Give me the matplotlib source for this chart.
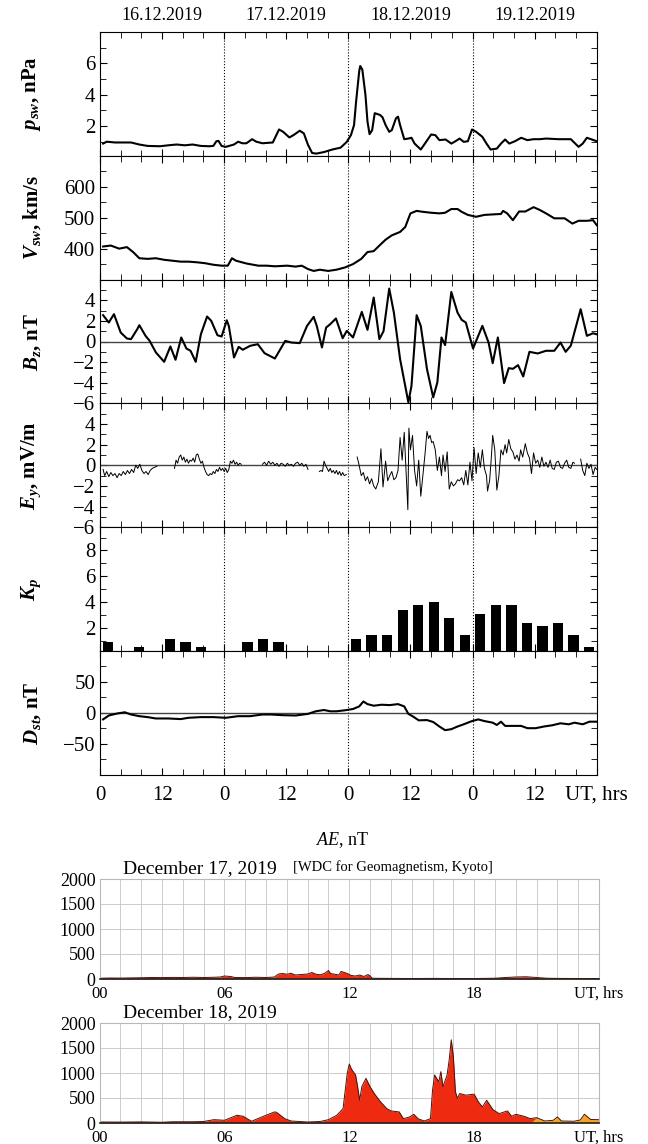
import numpy as np
import matplotlib.pyplot as plt
from matplotlib.ticker import MultipleLocator, FixedLocator

plt.rcParams['font.family'] = ['Liberation Serif', 'DejaVu Serif']
plt.rcParams['mathtext.fontset'] = 'custom'
plt.rcParams['mathtext.rm'] = 'Liberation Serif'
plt.rcParams['mathtext.it'] = 'Liberation Serif:italic'
plt.rcParams['mathtext.bf'] = 'Liberation Serif:bold'
plt.rcParams['mathtext.bfit'] = 'Liberation Serif:italic:bold'

# ---- data (hours from 16.12.2019 00 UT) ----
days = ['16.12.2019', '17.12.2019', '18.12.2019', '19.12.2019']

psw_t = [0.6, 1.3, 2.9, 6.0, 7.6, 9.2, 11.6, 13.2, 14.8, 16.4, 17.9, 19.5, 21.1, 21.9, 22.5, 22.9,
         23.5, 24.3, 25.9, 26.7, 27.5, 28.3, 29.4, 30.2, 31.4, 33.4, 34.6, 35.4, 36.6, 37.4, 38.6,
         39.4, 40.2, 41.0, 41.8, 43.3, 44.9, 46.5, 47.7, 48.5, 49.1, 49.5, 50.1, 50.3, 50.7, 51.3,
         51.7, 52.1, 52.6, 53.1, 54.1, 54.6, 55.2, 55.9, 56.4, 57.2, 57.6, 58.0, 58.8, 59.6, 60.2,
         60.8, 62.0, 62.8, 64.0, 64.8, 65.6, 66.8, 67.9, 68.7, 69.5, 70.3, 71.1, 71.9, 72.7, 73.9,
         74.7, 75.5, 76.7, 77.5, 78.3, 79.1, 80.2, 81.4, 82.6, 83.8, 85.0, 86.2, 88.6, 91.0, 92.5,
         93.3, 94.1, 94.9, 96.0]
psw = [0.88, 1.0, 0.95, 0.95, 0.82, 0.73, 0.71, 0.77, 0.82, 0.77, 0.82, 0.73, 0.71, 0.73, 1.03, 1.05,
       0.73, 0.67, 0.82, 1.0, 0.9, 0.9, 1.16, 1.0, 0.9, 0.95, 1.78, 1.63, 1.27, 1.42, 1.7,
       1.53, 0.8, 0.28, 0.24, 0.34, 0.5, 0.62, 0.99, 1.42, 2.06, 3.57, 5.5, 5.83, 5.6, 4.0,
       2.28, 1.48, 1.74, 2.82, 2.71, 2.56, 2.06, 1.63, 1.74, 2.49, 2.6, 2.06, 1.16, 1.2, 1.25,
       0.88, 0.5, 0.88, 1.46, 1.42, 1.1, 1.14, 0.88, 1.03, 1.2, 0.99, 1.03, 1.78, 1.63, 1.31,
       0.88, 0.5, 0.56, 0.88, 1.14, 0.88, 1.03, 1.25, 1.1, 1.16, 1.16, 1.2, 1.16, 1.16, 0.67,
       0.88, 1.25, 1.16, 1.03]

vsw_t = [0.6, 2.1, 3.7, 5.2, 6.4, 7.6, 9.2, 10.8, 12.4, 14.0, 15.6, 17.1, 18.7, 20.3, 21.9, 23.5,
         24.7, 25.5, 26.3, 28.3, 30.6, 32.2, 33.8, 36.2, 37.8, 39.0, 40.2, 41.3, 42.5, 44.1, 45.7,
         47.3, 48.9, 50.5, 51.7, 52.9, 54.0, 55.2, 56.4, 58.0, 59.0, 60.0, 61.2, 62.4, 64.0, 65.6,
         66.7, 67.9, 69.1, 69.9, 71.1, 72.7, 74.3, 76.3, 77.5, 77.9, 78.7, 79.8, 81.0, 82.2, 83.8,
         85.0, 86.2, 87.8, 89.8, 91.3, 92.5, 94.1, 95.3, 96.0]
vsw = [407, 410, 400, 405, 389, 369, 367, 369, 364, 361, 358, 358, 356, 353, 348, 345,
       345, 369, 361, 352, 345, 345, 343, 345, 342, 345, 334, 328, 332, 328, 332,
       339, 350, 367, 389, 392, 410, 429, 443, 454, 470, 514, 522, 519, 516, 514,
       516, 528, 528, 519, 509, 503, 509, 511, 512, 522, 514, 492, 520, 520, 534,
       525, 514, 498, 498, 481, 490, 490, 492, 476]

bz_t = [0.6, 1.7, 2.7, 4.0, 5.2, 6.0, 7.2, 7.6, 8.8, 9.6, 10.8, 12.4, 13.6, 14.6, 15.7, 16.7,
        17.5, 18.5, 19.5, 20.7, 21.5, 22.7, 23.5, 24.5, 24.9, 25.9, 26.8, 27.6, 29.0, 30.5, 31.8,
        33.8, 35.8, 37.0, 38.6, 40.0, 41.3, 41.9, 42.9, 43.7, 44.5, 45.6, 46.1, 46.9, 47.7, 48.9,
        50.6, 51.7, 52.9, 54.0, 54.8, 55.9, 56.8, 58.0, 59.6, 60.2, 61.2, 62.0, 63.2, 64.4, 65.2,
        66.0, 66.7, 67.9, 69.1, 69.9, 70.7, 72.1, 73.9, 75.1, 75.9, 76.9, 78.1, 79.0, 79.8, 80.8,
        81.8, 83.0, 84.6, 86.2, 87.8, 89.0, 90.0, 91.0, 92.9, 94.1, 95.3, 96.0]
bz = [2.55, 1.84, 2.65, 0.87, 0.29, 0.23, 1.19, 1.58, 0.55, 0.06, -1.06, -1.97, -0.48, -1.77, 0.39, -0.68,
      -0.9, -1.97, 0.71, 2.42, 2.0, 0.61, 0.48, 2.06, 1.5, -1.55, -0.52, -0.8, -0.42, -0.26, -1.13,
      -1.65, 0.06, -0.1, -0.16, 1.5, 2.39, 1.5, -0.58, 1.35, 1.68, 2.23, 1.5, 0.32, 1.03, 0.39,
      2.87, 1.13, 4.26, 0.23, 1.0, 5.13, 2.8, -1.71, -5.9, -4.3, 2.55, 1.5, -2.68, -5.42, -3.97,
      0.39, -0.35, 4.8, 2.8, 2.1, 1.84, -0.68, 1.52, -0.1, -2.1, 0.39, -4.03, -2.58, -2.65, -2.29,
      -3.39, -1.0, -1.16, -0.9, -0.9, -0.1, -1.0, -0.4, 3.13, 0.55, 0.8, 0.7]

nan = np.nan
ey_t = [0.6, 0.9, 1.3, 1.7, 2.1, 2.5, 2.9, 3.3, 3.7, 4.1, 4.5, 4.9, 5.3, 5.7, 6.1, 6.5, 6.9, 7.3, 7.7,
        8.1, 8.5, 8.9, 9.3, 9.7, 10.1, 10.5, 11.0, 12.5,
        14.4, 14.7, 15.0, 15.3, 15.6, 15.9, 16.2, 16.5, 16.8, 17.1, 17.4, 17.7, 18.0, 18.3, 18.6,
        18.9, 19.2, 19.5, 19.8, 20.1, 20.4, 20.7, 21.0, 21.3, 21.6, 21.9, 22.2, 22.5, 22.8, 23.1,
        23.4, 23.7, 24.0, 24.3, 24.6, 24.9, 25.2, 25.5, 25.8, 26.1, 26.4, 26.7, 27.0, 27.3, 29.0,
        31.4, 31.8, 32.2, 32.6, 33.0, 33.4, 33.8, 34.2, 34.6, 35.0, 35.4, 35.8, 36.2, 36.6, 37.0,
        37.4, 37.8, 38.2, 38.6, 39.0, 39.4, 39.8, 40.2, 41.0,
        42.4, 42.7, 43.0, 43.3, 43.6, 43.9, 44.2, 44.5, 44.8, 45.1, 45.4, 45.7, 46.0, 46.3, 46.6,
        46.9, 47.2, 47.6, 48.5,
        49.7, 50.0, 50.5, 50.9, 51.3, 51.7, 52.1, 52.5, 52.9, 53.3, 53.8, 54.3, 54.7, 55.2, 55.6,
        56.0, 56.4, 56.8, 57.2, 57.6, 58.0, 58.4, 58.8, 59.2, 59.5, 59.7, 60.0, 60.4, 60.8, 61.2,
        61.6, 62.0, 62.4, 62.8, 63.2, 63.5, 63.8, 64.1, 64.4, 64.8, 65.2, 65.6, 66.0, 66.3, 66.7,
        67.1, 67.5, 67.9, 68.3, 68.7, 69.1, 69.5, 69.9, 70.3, 70.7, 71.1, 71.5, 71.9, 72.3, 72.7,
        73.1, 73.5, 73.9, 74.3, 74.7, 74.9, 75.3, 75.6, 75.9, 76.3, 76.7, 77.1, 77.5, 77.9, 78.3,
        78.6, 79.0, 79.4, 79.8, 80.2, 80.6, 81.0, 81.3, 81.7, 82.2, 82.6, 83.0, 83.4, 83.8, 84.2,
        84.6, 85.0, 85.4, 85.8, 86.2, 86.6, 87.0, 87.4, 87.8, 88.2, 88.6, 89.0, 89.4, 89.8, 90.2,
        90.6, 91.0, 91.4, 91.7, 92.3, 92.9, 93.3, 93.7, 94.1, 94.5, 94.9, 95.3, 95.7, 96.0]
ey = [-0.4, -1.0, -0.6, -1.1, -0.7, -1.0, -0.8, -1.2, -0.8, -1.0, -0.6, -0.9, -0.5, -0.8, -0.4, -0.7, 0.0, -0.3, 0.1,
      -0.5, -0.8, -0.6, -0.9, -0.5, -0.3, -0.2, -0.1, nan,
      -0.3, 0.5, 0.2, 0.8, 1.0, 0.5, 0.8, 0.3, 0.6, 0.2, 0.5, 0.4, 0.7, 0.3, 1.0,
      1.1, 0.6, 0.2, 0.4, -0.2, -0.6, -0.9, -1.0, -0.8, -0.9, -0.6, -0.8, -0.4, -0.6, -0.2,
      -0.5, -0.3, -0.6, -0.3, -0.7, -0.4, 0.4, 0.2, 0.5, 0.1, 0.3, 0.0, 0.2, 0.1, nan,
      0.1, 0.3, 0.0, 0.4, 0.1, 0.3, 0.0, 0.2, -0.1, 0.2, 0.1, -0.1, 0.2, 0.0, 0.1,
      -0.1, 0.2, 0.3, 0.0, 0.2, -0.1, 0.1, -0.4, nan,
      -0.6, -0.5, -0.6, 0.4, 0.0, -0.3, -0.6, -0.3, -0.7, -0.5, -0.8, -0.5, -0.9, -0.6, -1.0,
      -0.7, -1.0, -0.9, nan,
      0.8, 0.2, -1.0, -0.7, -1.5, -1.1, -1.8, -1.3, -2.0, -2.3, -1.6, 1.6, -2.1, 0.4, -1.5,
      -1.0, -0.6, -1.4, -1.2, -0.5, 2.7, 0.5, 3.2, -1.0, -4.3, 3.6, 1.5, 2.9, -0.5, -2.0,
      0.5, -3.0, -1.0, 1.0, 3.3, 2.6, 2.9, 2.2, 2.3, 1.5, -0.5, 0.8, -1.0, 1.0, -0.6,
      1.3, -2.3, -1.6, -2.0, -1.8, -1.4, -1.5, -1.2, -1.9, -0.5, -1.9, 0.3, -1.5, 1.7, -0.8,
      1.2, -0.2, 1.5, -0.3, -1.0, -2.5, -1.5, 0.5, 2.9, 1.5, -2.4, -1.0, 1.5, 1.0, 2.0,
      1.2, 2.5, 1.6, 1.3, 0.6, 1.0, 0.4, 1.5, 0.8, 2.1, 1.2, 0.7, -0.8, 1.2, 0.2,
      0.5, -0.2, 0.8, -0.1, 0.3, -0.2, 0.5, -0.3, -0.4, 0.3, 0.4, -0.2, -0.3, 0.2, 0.5,
      -0.2, -0.3, 0.3, 0.2, nan, 0.6, -0.5, -1.0, 0.2, -0.3, 0.1, -0.9, -0.2, -0.4]

kp_t = np.arange(1.5, 96, 3)
kp = [0.9, 0, 0.5, 0, 1.15, 0.9, 0.5, 0,
      0, 0.9, 1.15, 0.9, 0, 0, 0, 0,
      1.15, 1.46, 1.46, 3.38, 3.75, 4.0, 2.77, 1.46,
      3.1, 3.75, 3.75, 2.38, 2.13, 2.38, 1.46, 0.5]

dst_t = [0.6, 1.7, 3.3, 4.8, 6.0, 7.6, 9.2, 10.8, 13.2, 15.6, 17.1, 19.5, 21.9, 24.3, 26.7, 29.0,
         31.4, 33.0, 35.4, 37.8, 40.2, 41.7, 43.3, 44.5, 45.7, 47.3, 48.9, 50.1, 50.9, 51.7, 52.9,
         54.4, 56.0, 57.6, 58.8, 59.6, 60.4, 61.6, 63.2, 64.4, 65.6, 66.7, 67.9, 69.1, 70.3, 71.9,
         73.1, 74.3, 75.9, 76.7, 77.5, 78.3, 79.8, 81.4, 82.6, 84.2, 85.8, 87.4, 89.0, 90.6, 91.7,
         93.3, 94.6, 96.0]
dst = [-10.5, -4.2, -1, 1, -2.6, -5.3, -6.8, -9, -9, -10, -7.9, -6.8, -6.8, -7.9, -5.3, -5.3,
       -2.6, -2.6, -3.7, -4.2, -1.6, 2.6, 4.7, 2.6, 2.6, 4.2, 6.3, 10.5, 18.4, 14.2, 11.6,
       13.2, 12.6, 14.2, 10.5, -1.6, -5.3, -12, -11.6, -14.7, -22, -27.9, -26.3, -22, -18.4, -13.2,
       -10.5, -13.2, -15.8, -19.5, -14.2, -21, -21, -21, -24.7, -24.7, -22, -20, -16.8, -18.4, -15.8,
       -18.4, -14.2, -14.2]

ae17_t = [0.0, 0.5, 1.0, 1.5, 2.0, 2.5, 3.0, 3.5, 4.0, 4.5, 5.0, 5.5, 5.8, 6.0, 6.3, 6.5, 7.0, 7.5,
          8.0, 8.4, 8.6, 8.8, 9.0, 9.2, 9.4, 9.7, 10.0, 10.2, 10.4, 10.6, 10.8, 11.0, 11.1, 11.3,
          11.5, 11.6, 11.7, 11.9, 12.1, 12.3, 12.5, 12.7, 12.9, 13.0, 13.1, 14.0, 15.0, 16.0, 17.0,
          18.0, 19.0, 19.5, 20.0, 20.5, 21.0, 21.5, 22.0, 23.0, 24.0]
ae17 = [15, 20, 18, 22, 25, 30, 28, 32, 30, 35, 30, 35, 40, 60, 50, 30, 28, 35,
        30, 40, 100, 110, 95, 115, 80, 90, 100, 130, 95, 85, 110, 170, 110, 95,
        80, 150, 140, 110, 70, 60, 80, 50, 90, 60, 15, 12, 10, 12, 10,
        10, 15, 30, 40, 45, 30, 15, 12, 10, 10]

ae18_t = [0.0, 1.0, 2.0, 3.0, 3.5, 4.5, 5.0, 5.5, 6.0, 6.6, 6.9, 7.3, 7.6, 8.0, 8.4, 8.5, 8.9, 9.2,
          10.0, 10.6, 11.0, 11.4, 11.7, 11.9, 12.0, 12.1, 12.3, 12.4, 12.5, 12.6, 12.8, 13.0, 13.2,
          13.5, 13.8, 14.0, 14.4, 14.6, 14.9, 15.1, 15.3, 15.6, 15.9, 16.0, 16.1, 16.3, 16.4, 16.5,
          16.7, 16.8, 16.9, 17.0, 17.1, 17.2, 17.3, 17.6, 18.0, 18.2, 18.4, 18.6, 18.9, 19.2, 19.6,
          19.8, 20.0, 20.4, 20.7, 21.0, 21.4, 21.8, 22.0, 22.2, 22.8, 23.1, 23.3, 23.6, 24.0]
ae18 = [20, 18, 22, 15, 25, 25, 30, 67, 54, 155, 134, 34, 87, 155, 221, 215, 87, 40,
        20, 30, 67, 155, 289, 993, 1181, 1080, 960, 725, 456, 725, 893, 725, 590,
        423, 289, 242, 221, 87, 121, 174, 87, 40, 87, 658, 960, 825, 1027, 725,
        960, 1262, 1664, 1329, 624, 490, 590, 557, 577, 423, 322, 456, 268, 188, 242,
        134, 174, 134, 87, 107, 40, 54, 121, 40, 35, 60, 174, 70, 67]

# ---- figure ----
fig = plt.figure(figsize=(6.48, 11.44), dpi=100)
H = 1144.0
left = 100 / 648
width = 496.7 / 648
ph = 123.8
tops = [32 + i * ph for i in range(6)]

axes = []
for top in tops:
    ax = fig.add_axes([left, 1 - (top + ph) / H, width, ph / H])
    ax.set_xlim(0, 96)
    ax.xaxis.set_major_locator(MultipleLocator(12))
    ax.xaxis.set_minor_locator(MultipleLocator(4))
    ax.tick_params(which='both', direction='in', top=True, right=True, labelsize=15)
    ax.tick_params(which='major', length=5)
    ax.tick_params(which='minor', length=4)
    ax.tick_params(axis='x', labelbottom=False)
    for d in [24, 48, 72]:
        ax.axvline(d, color='k', ls=':', lw=0.8)
    ax.yaxis.set_label_coords(-0.115, 0.5)
    axes.append(ax)

ax_p, ax_v, ax_b, ax_e, ax_k, ax_d = axes
lab = dict(fontsize=15, fontweight='bold')

ax_p.plot(psw_t, psw, color='k', lw=1.5)
ax_p.set_ylim(0.1, 8)
ax_p.yaxis.set_major_locator(FixedLocator([2, 4, 6]))
ax_p.yaxis.set_minor_locator(MultipleLocator(1))
ax_p.set_ylabel(r'$\mathbfit{p}_{\mathbfit{sw}}$, nPa', **lab)

ax_v.plot(vsw_t, vsw, color='k', lw=1.5)
ax_v.set_ylim(300, 700)
ax_v.yaxis.set_major_locator(FixedLocator([400, 500, 600]))
ax_v.yaxis.set_minor_locator(MultipleLocator(50))
ax_v.set_ylabel(r'$\mathbfit{V}_{\mathbfit{sw}}$, km/s', **lab)

ax_b.axhline(0, color='#444444', lw=1.0)
ax_b.plot(bz_t, bz, color='k', lw=1.5)
ax_b.set_ylim(-6, 6)
ax_b.yaxis.set_major_locator(FixedLocator([-6, -4, -2, 0, 2, 4]))
ax_b.yaxis.set_minor_locator(MultipleLocator(1))
ax_b.set_ylabel(r'$\mathbfit{B}_{\mathbfit{z}}$, nT', **lab)

ax_e.axhline(0, color='#444444', lw=1.0)
ax_e.plot(ey_t, ey, color='k', lw=0.7)
ax_e.set_ylim(-6, 6)
ax_e.yaxis.set_major_locator(FixedLocator([-6, -4, -2, 0, 2, 4]))
ax_e.yaxis.set_minor_locator(MultipleLocator(1))
ax_e.set_ylabel(r'$\mathbfit{E}_{\mathbfit{y}}$, mV/m', **lab)

ax_k.bar(kp_t, kp, width=2.0, color='k')
ax_k.set_ylim(0.2, 9.8)
ax_k.yaxis.set_major_locator(FixedLocator([2, 4, 6, 8]))
ax_k.yaxis.set_minor_locator(MultipleLocator(1))
ax_k.set_ylabel(r'$\mathbfit{K}_{\mathbfit{p}}$', **lab)

ax_d.axhline(0, color='#444444', lw=1.0)
ax_d.plot(dst_t, dst, color='k', lw=1.5)
ax_d.set_ylim(-100, 100)
ax_d.yaxis.set_major_locator(FixedLocator([-50, 0, 50]))
ax_d.yaxis.set_minor_locator(MultipleLocator(25))
ax_d.set_ylabel(r'$\mathbfit{D}_{\mathbfit{st}}$, nT', **lab)
ax_d.tick_params(axis='x', labelbottom=True, pad=8)
ax_d.set_xticks([0, 12, 24, 36, 48, 60, 72, 84, 96])
ax_d.set_xticklabels(['0', '12', '0', '12', '0', '12', '0', '12', 'UT, hrs'])

for i, d in enumerate(days):
    fig.text((100 + (12 + 24 * i) * 496.7 / 96) / 648, 1 - 15 / H, d,
             ha='center', va='center', fontsize=13)

# ---- AE panels ----
fig.text(343 / 648, 1 - 840 / H, r'$AE$, nT', ha='center', va='center', fontsize=13)

ae_left = 99.6 / 648
ae_w = 499.4 / 648
for top, bottom, t, v, title in [(879, 979, ae17_t, ae17, 'December 17, 2019'),
                                 (1023, 1123, ae18_t, ae18, 'December 18, 2019')]:
    ax = fig.add_axes([ae_left, 1 - bottom / H, ae_w, (bottom - top) / H])
    t = np.array(t)
    v = np.array(v)
    ax.fill_between(t, 0, v, where=t <= 21.0, color='#ee2a10', lw=0, interpolate=True)
    ax.fill_between(t, 0, v, where=t >= 21.0, color='#f2a322', lw=0, interpolate=True)
    ax.plot(t, v, color='#4a1208', lw=0.7)
    ax.set_xlim(0, 24)
    ax.set_ylim(0, 2000)
    ax.yaxis.set_major_locator(MultipleLocator(500))
    ax.set_xticks([0, 6, 12, 18, 24])
    ax.set_xticklabels(['00', '06', '12', '18', 'UT, hrs'])
    ax.set_xticks(np.arange(0, 25, 1), minor=True)
    ax.grid(True, which='major', color='#c4c4c4', lw=0.6)
    ax.grid(True, which='minor', axis='x', color='#c4c4c4', lw=0.6)
    ax.set_axisbelow(True)
    ax.tick_params(which='both', length=0, labelsize=13, pad=3)
    ax.tick_params(axis='x', labelsize=12, pad=5)
    for s in ['top', 'right', 'left']:
        ax.spines[s].set_color('#b8b8b8')
    ax.spines['bottom'].set_color('#222222')
    ax.spines['bottom'].set_linewidth(1.2)
    fig.text(123 / 648, 1 - (top - 10) / H, title, ha='left', va='center', fontsize=14)

fig.text(393 / 648, 1 - 867 / H, '[WDC for Geomagnetism, Kyoto]', ha='center', va='center',
         fontsize=10.5)

fig.savefig('out.png', dpi=100)
